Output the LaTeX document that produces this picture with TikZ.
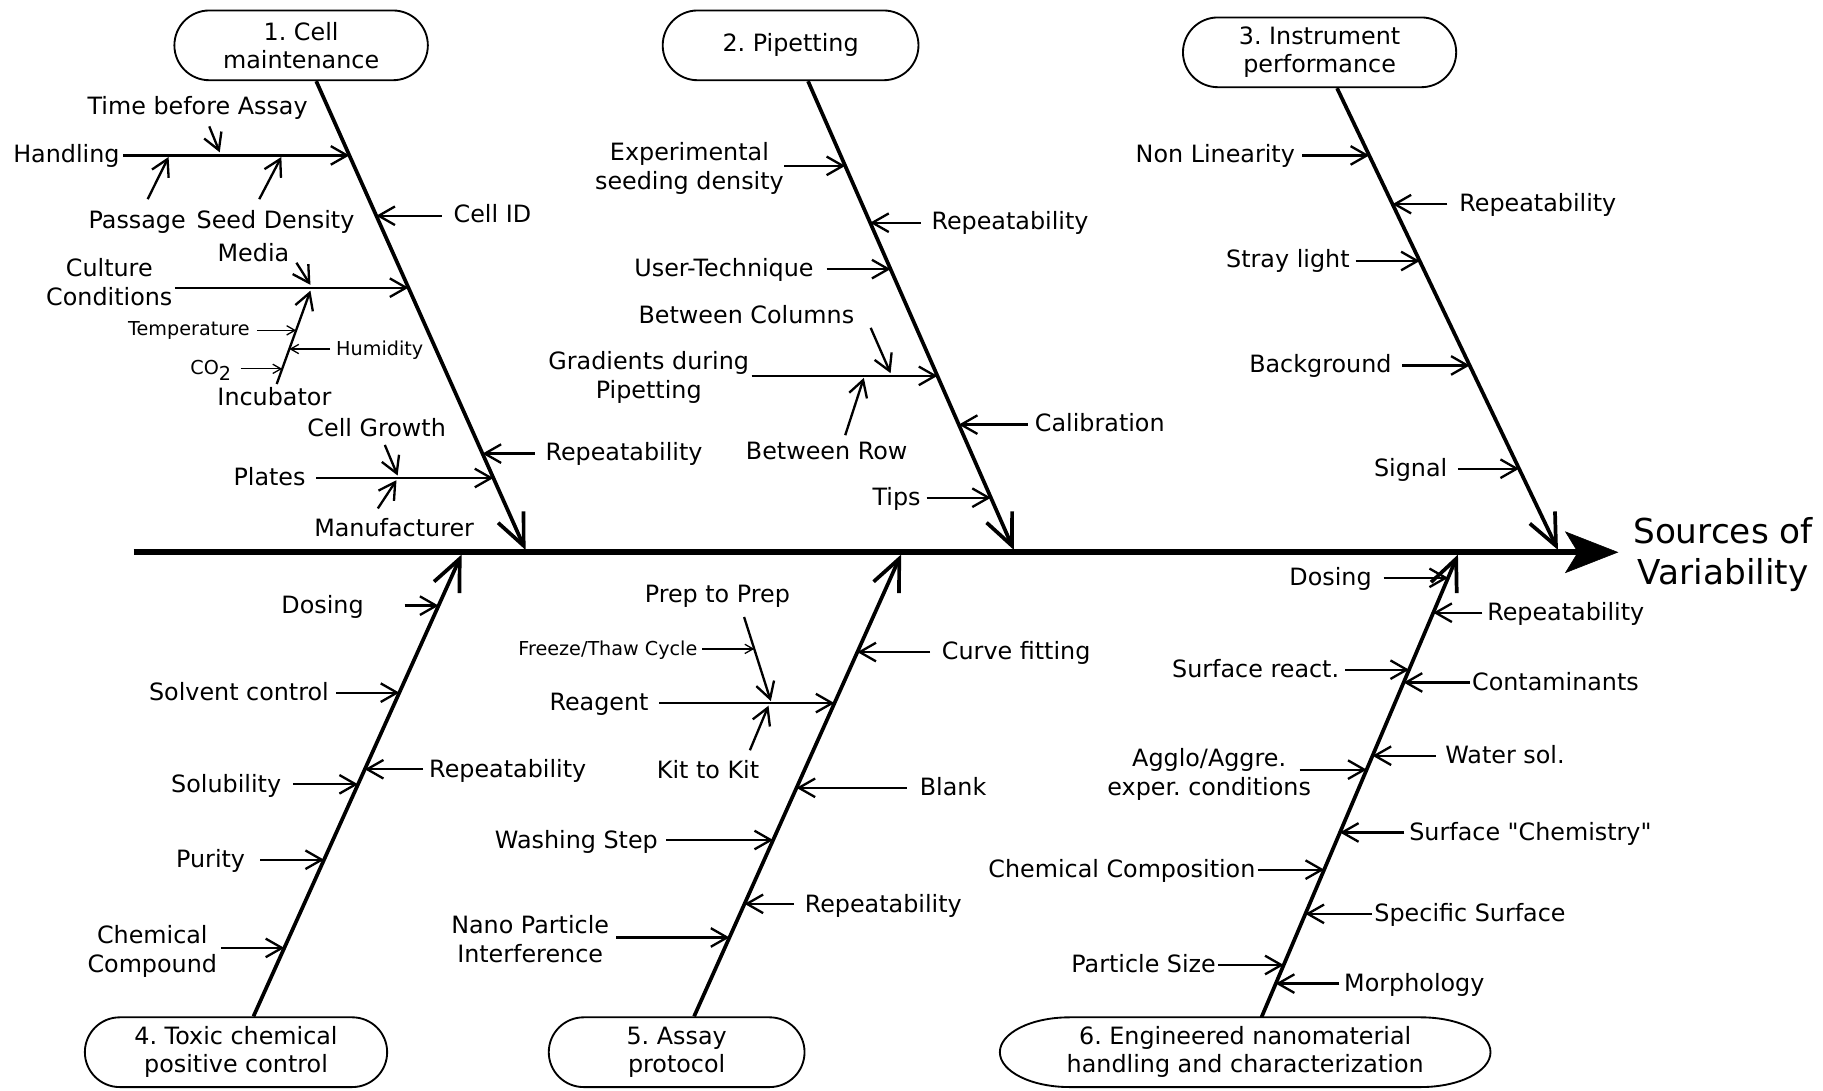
\documentclass[tikz,border=0pt]{standalone}
\usepackage{fontspec}
\setmainfont{DejaVu Sans}
\usetikzlibrary{arrows.meta,calc}
\frenchspacing
\begin{document}
\begin{tikzpicture}[x=1pt,y=-1pt,
  lab/.style={inner sep=0pt, font=\fontsize{20.5}{25}\selectfont, text height=15pt, text depth=2pt},
  mlab/.style={inner sep=0pt, font=\fontsize{20.5}{25}\selectfont, align=center},
  slab/.style={inner sep=0pt, font=\fontsize{16.5}{19}\selectfont, text height=12pt, text depth=1pt},
  br/.style={line width=2pt, -{Straight Barb[length=14pt,width=16pt]}},
  sbr/.style={line width=1.1pt, -{Straight Barb[length=7pt,width=8pt]}},
  bone/.style={line width=3.2pt, -{Straight Barb[length=27pt,width=24pt]}},
  box/.style={draw, line width=1.6pt, rounded corners=30pt, minimum height=60pt, inner sep=0pt, align=center, font=\fontsize{20.5}{24}\selectfont},
]
\useasboundingbox (0,0) rectangle (1568,938);

% ---------- category boxes ----------
\node[box, minimum width=218pt] (c1) at (259,39) {1. Cell\\maintenance};
\node[box, minimum width=220pt] (c2) at (680,39) {2. Pipetting};
\node[box, minimum width=235pt] (c3) at (1135,45) {3. Instrument\\performance};
\node[box, minimum width=260pt] (c4) at (203,905) {4. Toxic chemical\\positive control};
\node[box, minimum width=220pt] (c5) at (582,905) {5. Assay\\protocol};
\node[inner sep=0pt, align=center, font=\fontsize{20.5}{24}\selectfont] (c6) at (1071,905) {6. Engineered nanomaterial\\handling and characterization};
\draw[line width=1.6pt] ($(c6)+(-151,-30)$) -- ($(c6)+(151,-30)$)
  arc[start angle=90,end angle=-90,x radius=60pt,y radius=30pt]
  -- ($(c6)+(-151,30)$)
  arc[start angle=270,end angle=90,x radius=60pt,y radius=30pt] -- cycle;

% ---------- spine ----------
\node[inner sep=0pt, align=center, font=\fontsize{29.5}{36}\selectfont] (src) at (1482,477) {Sources of\\Variability};
\coordinate (spL) at (115,475);
\coordinate (spR) at (1392,475);
\draw[line width=5pt, -{Stealth[length=46pt,width=36pt,inset=11pt,line width=0.5pt]}] (spL) -- (spR);

% ---------- bones ----------
\coordinate (b1a) at ($(c1.south)+(13,0)$);  \coordinate (b1b) at (452,473);
\coordinate (b2a) at ($(c2.south)+(15,0)$);  \coordinate (b2b) at (872,473);
\coordinate (b3a) at ($(c3.south)+(15,0)$);  \coordinate (b3b) at (1340,473);
\coordinate (b4a) at ($(c4.north)+(15,0)$);  \coordinate (b4b) at (397,477);
\coordinate (b5a) at ($(c5.north)+(15,0)$);  \coordinate (b5b) at (775,477);
\coordinate (b6a) at ($(c6)+(14,-30)$);      \coordinate (b6b) at (1254,477);
\draw[bone] (b1a) -- (b1b);
\draw[bone] (b2a) -- (b2b);
\draw[bone] (b3a) -- (b3b);
\draw[bone] (b4a) -- (b4b);
\draw[bone] (b5a) -- (b5b);
\draw[bone] (b6a) -- (b6b);

% ---------- bone 1 : cell maintenance ----------
\coordinate (t11) at ($(b1a)!{(133-69)/404}!(b1b)$);
\coordinate (t12) at ($(b1a)!{(185-69)/404}!(b1b)$);
\coordinate (t13) at ($(b1a)!{(247-69)/404}!(b1b)$);
\coordinate (t14) at ($(b1a)!{(411-69)/404}!(b1b)$);
\coordinate (t15) at ($(b1a)!{(390-69)/404}!(b1b)$);

\node[lab, anchor=east] (l11) at (103,133) {Handling};
\draw[br] ($(l11.east|-t11)+(3,0)$) -- (t11);
\node[lab] (l11a) at (170,92) {Time before Assay};
\coordinate (j11a) at (189,131);
\draw[br] ($(l11a.south)+(10,8)$) -- (j11a);
\node[lab] (l11b) at (118,190) {Passage};
\coordinate (j11b) at (145,135);
\draw[br] ($(l11b.north)+(9,-10)$) -- (j11b);
\node[lab] (l11c) at (237,190) {Seed Density};
\coordinate (j11c) at (242,135);
\draw[br] ($(l11c.north)+(-14,-10)$) -- (j11c);

\node[lab, anchor=west] (l12) at (390,185) {Cell ID};
\draw[br] ($(l12.west|-t12)-(10,0)$) -- (t12);

\node[mlab] (l13) at (94,243) {Culture\\Conditions};
\draw[br] ($(l13.east|-t13)+(2,0)$) -- (t13);
\node[lab] (l13a) at (218,218) {Media};
\coordinate (j13a) at (267,245);
\draw[br] ($(l13a.east)+(6,8)$) -- (j13a);
\node[lab] (l13b) at (236,342) {Incubator};
\coordinate (inc1) at ($(l13b.north)+(2,-3)$);
\coordinate (j13b) at (267,250);
\draw[br] (inc1) -- (j13b);
\coordinate (p13c) at ($(inc1)!{46/80}!(j13b)$);
\coordinate (p13d) at ($(inc1)!{30/80}!(j13b)$);
\coordinate (p13e) at ($(inc1)!{13/80}!(j13b)$);
\node[slab, anchor=east] (l13c) at (215,283) {Temperature};
\draw[sbr] ($(l13c.east|-p13c)+(6,0)$) -- (p13c);
\node[slab, anchor=west] (l13d) at (289,300) {Humidity};
\draw[sbr] ($(l13d.west|-p13d)-(5,0)$) -- (p13d);
\node[slab, anchor=east] (l13e) at (199,317) {CO\raisebox{-5pt}{2}};
\draw[sbr] ($(l13e.east|-p13e)+(8,0)$) -- (p13e);

\node[lab] (l14a) at (324,369) {Cell Growth};
\coordinate (j14a) at (342,409);
\draw[br] ($(l14a.south)+(7,5)$) -- (j14a);
\node[lab, anchor=east] (l14) at (263,411) {Plates};
\draw[br] ($(l14.east|-t14)+(9,0)$) -- (t14);
\node[lab] (l14b) at (339,455) {Manufacturer};
\coordinate (j14b) at (341,413);
\draw[br] ($(l14b.north)+(-14,-9)$) -- (j14b);

\node[lab, anchor=west] (l15) at (469,390) {Repeatability};
\draw[br] ($(l15.west|-t15)-(9,0)$) -- (t15);

% ---------- bone 2 : pipetting ----------
\coordinate (t21) at ($(b2a)!{(142-69)/404}!(b2b)$);
\coordinate (t22) at ($(b2a)!{(191-69)/404}!(b2b)$);
\coordinate (t23) at ($(b2a)!{(231-69)/404}!(b2b)$);
\coordinate (t24) at ($(b2a)!{(323-69)/404}!(b2b)$);
\coordinate (t25) at ($(b2a)!{(365-69)/404}!(b2b)$);
\coordinate (t26) at ($(b2a)!{(428-69)/404}!(b2b)$);

\node[mlab] (l21) at (593,145) {Experimental\\seeding density};
\draw[br] ($(l21.east|-t21)+(0,0)$) -- (t21);
\node[lab, anchor=west] (l22) at (801,191) {Repeatability};
\draw[br] ($(l22.west|-t22)-(9,0)$) -- (t22);
\node[lab, anchor=east] (l23) at (700,231) {User-Technique};
\draw[br] ($(l23.east|-t23)+(11,0)$) -- (t23);
\node[lab] (l24a) at (642,272) {Between Columns};
\coordinate (j24a) at (766,321);
\draw[br] ($(l24a.east)+(14,10)$) -- (j24a);
\node[mlab] (l24) at (558,325) {Gradients during\\Pipetting};
\draw[br] ($(l24.east|-t24)+(2,0)$) -- (t24);
\node[lab] (l24b) at (711,389) {Between Row};
\coordinate (j24b) at (743,325);
\draw[br] ($(l24b.north)+(16,-6)$) -- (j24b);
\node[lab, anchor=west] (l25) at (890,365) {Calibration};
\draw[br] ($(l25.west|-t25)-(6,0)$) -- (t25);
\node[lab, anchor=east] (l26) at (792,428) {Tips};
\draw[br] ($(l26.east|-t26)+(5,0)$) -- (t26);

% ---------- bone 3 : instrument ----------
\coordinate (t31) at ($(b3a)!{(133-75)/398}!(b3b)$);
\coordinate (t32) at ($(b3a)!{(175-75)/398}!(b3b)$);
\coordinate (t33) at ($(b3a)!{(224-75)/398}!(b3b)$);
\coordinate (t34) at ($(b3a)!{(314-75)/398}!(b3b)$);
\coordinate (t35) at ($(b3a)!{(403-75)/398}!(b3b)$);

\node[lab, anchor=east] (l31) at (1114,133) {Non Linearity};
\draw[br] ($(l31.east|-t31)+(6,0)$) -- (t31);
\node[lab, anchor=west] (l32) at (1255,175) {Repeatability};
\draw[br] ($(l32.west|-t32)-(10,0)$) -- (t32);
\node[lab, anchor=east] (l33) at (1161,224) {Stray light};
\draw[br] ($(l33.east|-t33)+(5,0)$) -- (t33);
\node[lab, anchor=east] (l34) at (1197,314) {Background};
\draw[br] ($(l34.east|-t34)+(9,0)$) -- (t34);
\node[lab, anchor=east] (l35) at (1245,403) {Signal};
\draw[br] ($(l35.east|-t35)+(9,0)$) -- (t35);

% ---------- bone 4 : toxic chemical ----------
\coordinate (t41) at ($(b4a)!{(875-521)/398}!(b4b)$);
\coordinate (t42) at ($(b4a)!{(875-596)/398}!(b4b)$);
\coordinate (t43) at ($(b4a)!{(875-662)/398}!(b4b)$);
\coordinate (t44) at ($(b4a)!{(875-675)/398}!(b4b)$);
\coordinate (t45) at ($(b4a)!{(875-740)/398}!(b4b)$);
\coordinate (t46) at ($(b4a)!{(875-816)/398}!(b4b)$);

\node[lab, anchor=east] (l41) at (313,521) {Dosing};
\draw[br] ($(l41.east|-t41)+(35,0)$) -- (t41);
\node[lab, anchor=east] (l42) at (283,596) {Solvent control};
\draw[br] ($(l42.east|-t42)+(6,0)$) -- (t42);
\node[lab, anchor=west] (l43) at (369,662) {Repeatability};
\draw[br] ($(l43.west|-t43)-(5,0)$) -- (t43);
\node[lab, anchor=east] (l44) at (242,675) {Solubility};
\draw[br] ($(l44.east|-t44)+(10,0)$) -- (t44);
\node[lab, anchor=east] (l45) at (211,740) {Purity};
\draw[br] ($(l45.east|-t45)+(13,0)$) -- (t45);
\node[mlab] (l46) at (131,818) {Chemical\\Compound};
\draw[br] ($(l46.east|-t46)+(3,0)$) -- (t46);

% ---------- bone 5 : assay protocol ----------
\coordinate (t51) at ($(b5a)!{(875-605)/398}!(b5b)$);
\coordinate (t52) at ($(b5a)!{(875-561)/398}!(b5b)$);
\coordinate (t53) at ($(b5a)!{(875-678)/398}!(b5b)$);
\coordinate (t54) at ($(b5a)!{(875-723)/398}!(b5b)$);
\coordinate (t55) at ($(b5a)!{(875-778)/398}!(b5b)$);
\coordinate (t56) at ($(b5a)!{(875-807)/398}!(b5b)$);

\node[lab] (l51a) at (617,512) {Prep to Prep};
\coordinate (p51s) at ($(l51a.south)+(23,10)$);
\coordinate (j51) at (663,603);
\draw[br] (p51s) -- (j51);
\coordinate (p51b) at ($(p51s)!{(558-530.5)/(603-530.5)}!(j51)$);
\node[slab, anchor=east] (l51b) at (600,558) {Freeze/Thaw Cycle};
\draw[sbr] ($(l51b.east|-p51b)+(4,0)$) -- (p51b);
\node[lab, anchor=east] (l51) at (558,605) {Reagent};
\draw[br] ($(l51.east|-t51)+(9,0)$) -- (t51);
\node[lab] (l51c) at (609,663) {Kit to Kit};
\coordinate (j51c) at (661,607);
\draw[br] ($(l51c.north)+(36,-9)$) -- (j51c);

\node[lab, anchor=west] (l52) at (810,561) {Curve fitting};
\draw[br] ($(l52.west|-t52)-(10,0)$) -- (t52);
\node[lab, anchor=west] (l53) at (791,678) {Blank};
\draw[br] ($(l53.west|-t53)-(11,0)$) -- (t53);
\node[lab, anchor=east] (l54) at (566,723) {Washing Step};
\draw[br] ($(l54.east|-t54)+(7,0)$) -- (t54);
\node[lab, anchor=west] (l55) at (692,778) {Repeatability};
\draw[br] ($(l55.west|-t55)-(9,0)$) -- (t55);
\node[mlab] (l56) at (456,808) {Nano Particle\\Interference};
\draw[br] ($(l56.east|-t56)+(6,0)$) -- (t56);

% ---------- bone 6 : nanomaterial ----------
\coordinate (t61) at ($(b6a)!{(875-497)/398}!(b6b)$);
\coordinate (t62) at ($(b6a)!{(875-527)/398}!(b6b)$);
\coordinate (t63) at ($(b6a)!{(875-576)/398}!(b6b)$);
\coordinate (t64) at ($(b6a)!{(875-587)/398}!(b6b)$);
\coordinate (t65) at ($(b6a)!{(875-650)/398}!(b6b)$);
\coordinate (t66) at ($(b6a)!{(875-662)/398}!(b6b)$);
\coordinate (t67) at ($(b6a)!{(875-716)/398}!(b6b)$);
\coordinate (t68) at ($(b6a)!{(875-748)/398}!(b6b)$);
\coordinate (t69) at ($(b6a)!{(875-786)/398}!(b6b)$);
\coordinate (t6a) at ($(b6a)!{(875-830)/398}!(b6b)$);
\coordinate (t6b) at ($(b6a)!{(875-846)/398}!(b6b)$);

\node[lab, anchor=east] (l61) at (1180,497) {Dosing};
\draw[br] ($(l61.east|-t61)+(10,0)$) -- (t61);
\node[lab, anchor=west] (l62) at (1279,527) {Repeatability};
\draw[br] ($(l62.west|-t62)-(4,0)$) -- (t62);
\node[lab, anchor=east] (l63) at (1152,576) {Surface react.};
\draw[br] ($(l63.east|-t63)+(5,0)$) -- (t63);
\node[lab, anchor=west] (l64) at (1266,587) {Contaminants};
\draw[br] ($(l64.west|-t64)-(2,0)$) -- (t64);
\node[lab, anchor=west] (l65) at (1243,650) {Water sol.};
\draw[br] ($(l65.west|-t65)-(8,0)$) -- (t65);
\node[mlab] (l66) at (1040,666) {Agglo/Aggre.\\exper. conditions};
\draw[br] ($(l66.east|-t66)+(-10,0)$) -- (t66);
\node[lab, anchor=west] (l67) at (1212,716) {Surface \textquotedbl Chemistry\textquotedbl};
\draw[br] ($(l67.west|-t67)-(4,0)$) -- (t67);
\node[lab, anchor=east] (l68) at (1080,748) {Chemical Composition};
\draw[br] ($(l68.east|-t68)+(2,0)$) -- (t68);
\node[lab, anchor=west] (l69) at (1182,786) {Specific Surface};
\draw[br] ($(l69.west|-t69)-(2,0)$) -- (t69);
\node[lab, anchor=east] (l6a) at (1046,830) {Particle Size};
\draw[br] ($(l6a.east|-t6a)+(2,0)$) -- (t6a);
\node[lab, anchor=west] (l6b) at (1156,846) {Morphology};
\draw[br] ($(l6b.west|-t6b)-(4,0)$) -- (t6b);
\end{tikzpicture}
\end{document}
